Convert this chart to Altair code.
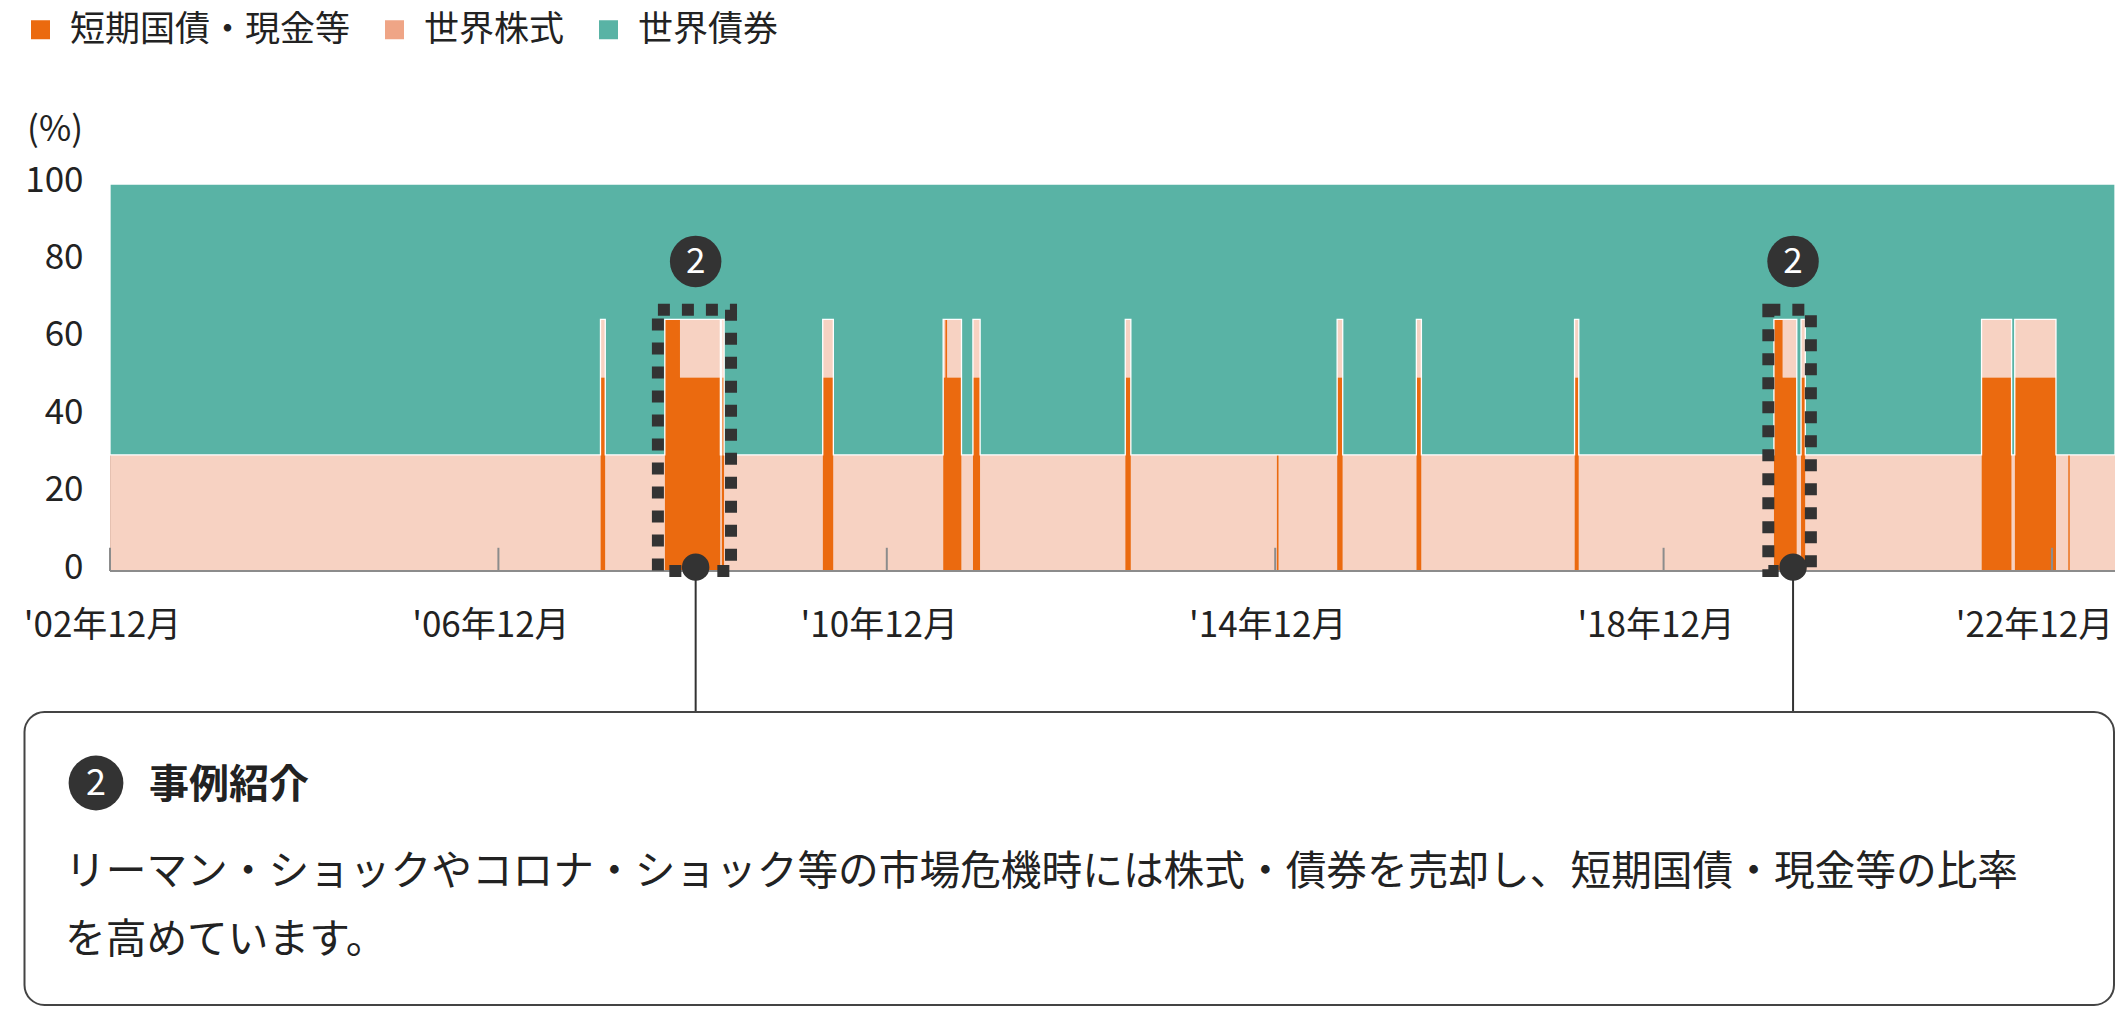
import altair as alt
import pandas as pd

# ---------------- data ----------------
series_names = ["短期国債・現金等", "世界株式", "世界債券"]
series_colors = ["#EB6A0F", "#EFA586", "#59B3A5"]

# allocation change points (step-after)
change_dates = [
    "2002-12-01", "2007-12-20", "2008-01-07", "2008-08-18", "2008-10-14",
    "2009-03-15", "2009-03-20", "2009-03-29", "2010-04-04", "2010-05-14",
    "2011-07-01", "2011-07-09", "2011-07-16", "2011-09-08", "2011-10-21",
    "2011-11-17", "2013-05-16", "2013-06-06", "2014-12-07", "2014-12-14",
    "2015-07-22", "2015-08-12", "2016-05-15", "2016-06-03", "2017-12-31",
    "2018-01-16", "2020-01-20", "2020-02-22", "2020-04-15", "2020-05-01",
    "2020-05-17", "2022-03-11", "2022-07-02", "2022-07-14", "2022-12-16",
    "2023-01-31", "2023-02-06", "2023-07-26",
]
cash = [0, 50, 0, 65, 50, 0, 50, 0, 50, 0,
        50, 65, 50, 0, 50, 0, 50, 0, 30, 0,
        50, 0, 50, 0, 50, 0, 65, 50, 0, 50,
        0, 50, 0, 50, 0, 30, 0, 0]
equity = [30, 15, 30, 0, 15, 30, 15, 30, 15, 30,
          15, 0, 15, 30, 15, 30, 15, 30, 0, 30,
          15, 30, 15, 30, 15, 30, 0, 15, 30, 15,
          30, 15, 30, 15, 30, 0, 30, 30]
bonds = [70, 35, 70, 35, 35, 70, 35, 70, 35, 70,
         35, 35, 35, 70, 35, 70, 35, 70, 70, 70,
         35, 70, 35, 70, 35, 70, 35, 35, 70, 35,
         70, 35, 70, 35, 70, 70, 70, 70]

tick_dates = ["2002-12-01", "2006-12-01", "2010-12-01", "2014-12-01", "2018-12-01", "2022-12-01"]
tick_height = [6, 6, 6, 6, 6, 6]

# highlighted crisis windows (dotted frames)
frame_start = ["2008-07-23", "2019-12-30"]
frame_end = ["2009-04-24", "2020-06-07"]
frame_top = [67.5, 67.5]

# callout markers
marker_dates = ["2008-12-12", "2020-04-01"]
badge_level = [80, 80]
dot_level = [1, 1]
badge_label = ["2", "2"]

unit_label = "(%)"
box_title = "事例紹介"
box_line1 = "リーマン・ショックやコロナ・ショック等の市場危機時には株式・債券を売却し、短期国債・現金等の比率"
box_line2 = "を高めています。"

FONT = "Noto Sans CJK JP"
DARK = "#333333"
TEXT = "#222222"

W, H = 2005, 387

rows = []
for i, d in enumerate(change_dates):
    for k, vals in enumerate([cash, equity, bonds]):
        rows.append({"date": d, "series": series_names[k], "k": k, "value": vals[i]})
df = pd.DataFrame(rows)

df_ticks = pd.DataFrame({"date": tick_dates, "value": [0] * len(tick_dates), "value2": tick_height})
df_frames = pd.DataFrame({"date": frame_start, "date2": frame_end, "value": frame_top,
                          "value2": [0] * len(frame_start)})
df_markers = pd.DataFrame({"date": marker_dates, "value": badge_level, "dot": dot_level,
                           "label": badge_label})
df_base = pd.DataFrame({"value": [0]})
df_one = pd.DataFrame({"u": [unit_label], "t": [box_title], "l1": [box_line1], "l2": [box_line2]})

x_dom = [alt.DateTime(year=2002, month=12, date=1, utc=True),
         alt.DateTime(year=2023, month=7, date=26, utc=True)]
x_scale = alt.Scale(type="utc", domain=x_dom, nice=False)
y_scale = alt.Scale(domain=[0, 100], nice=False)

tick_vals = [alt.DateTime(year=y, month=12, date=1, utc=True) for y in [2002, 2006, 2010, 2014, 2018, 2022]]

x_axis = alt.Axis(
    values=tick_vals,
    labelExpr="\"'\" + utcFormat(datum.value, '%y年%m月')",
    domain=False, ticks=False, grid=False,
    labelFontSize=35, labelFont=FONT, labelColor=TEXT,
    labelBaseline="middle", labelPadding=54, labelAlign="center",
    labelOffset={"condition": {"test": "utcyear(datum.value) >= 2022", "value": -18}, "value": -8},
    labelOverlap=False, labelBound=False, labelFlush=False, title=None,
)
y_axis = alt.Axis(
    values=[0, 20, 40, 60, 80, 100],
    domain=False, ticks=False, grid=False,
    labelFontSize=35, labelFont=FONT, labelColor=TEXT, labelPadding=27,
    labelBaseline="middle", labelOffset=-4, title=None,
)

areas = alt.Chart(df).mark_area(interpolate="step-after", stroke="white", strokeWidth=1.3).encode(
    x=alt.X("date:T", scale=x_scale, axis=x_axis, title=None),
    y=alt.Y("value:Q", stack="zero", scale=y_scale, axis=y_axis, title=None),
    color=alt.Color("series:N", scale=alt.Scale(domain=series_names, range=series_colors),
                    legend=alt.Legend(
                        orient="none", legendX=-87, legendY=-172, direction="horizontal",
                        title=None, symbolType="square", symbolSize=361, symbolStrokeWidth=0,
                        symbolOpacity=1, labelFontSize=35, labelFont=FONT, labelColor=TEXT,
                        labelLimit=1000, labelOffset=12, columnPadding=26, padding=0)),
    fillOpacity=alt.condition(alt.datum.series == series_names[1], alt.value(0.5), alt.value(1)),
    strokeOpacity=alt.condition(alt.datum.series == series_names[2], alt.value(1), alt.value(0)),
    order=alt.Order("k:Q", sort="ascending"),
)

ticks = alt.Chart(df_ticks).mark_rule(color="#8c8c8c", strokeWidth=2).encode(
    x=alt.X("date:T", title=None), y=alt.Y("value:Q", title=None), y2="value2:Q")

baseline = alt.Chart(df_base).mark_rule(color="#8c8c8c", strokeWidth=2).encode(
    y=alt.Y("value:Q", title=None))

frames = alt.Chart(df_frames).mark_rect(fillOpacity=0, stroke=DARK, strokeWidth=12,
                                        strokeDash=[12, 12]).encode(
    x=alt.X("date:T", title=None), x2="date2:T",
    y=alt.Y("value:Q", title=None), y2="value2:Q")

connectors = alt.Chart(df_markers).mark_rule(color=DARK, strokeWidth=2).encode(
    x=alt.X("date:T", title=None), y=alt.value(384), y2=alt.value(528))

dots = alt.Chart(df_markers).mark_circle(color=DARK, opacity=1, size=755).encode(
    x=alt.X("date:T", title=None), y=alt.Y("dot:Q", title=None))

badges = alt.Chart(df_markers).mark_circle(color=DARK, opacity=1, size=2650).encode(
    x=alt.X("date:T", title=None), y=alt.Y("value:Q", title=None))

badge_text = alt.Chart(df_markers).mark_text(color="white", fontSize=35, font=FONT,
                                             align="center", baseline="middle", dy=1).encode(
    x=alt.X("date:T", title=None), y=alt.Y("value:Q", title=None), text="label:N")

unit_text = alt.Chart(df_one).mark_text(color=TEXT, fontSize=35, font=FONT,
                                        align="right", baseline="middle").encode(
    x=alt.value(-27), y=alt.value(-54), text="u:N")

box = alt.Chart(df_one).mark_rect(fill="white", stroke="#444444", strokeWidth=2, cornerRadius=20).encode(
    x=alt.value(-85.5), x2=alt.value(2004), y=alt.value(528), y2=alt.value(821))

box_badge = alt.Chart(df_one).mark_circle(color=DARK, opacity=1, size=3000).encode(
    x=alt.value(-14), y=alt.value(599))
box_badge_text = alt.Chart(df_one).mark_text(text="2", color="white", fontSize=36, font=FONT,
                                             align="center", baseline="middle", dy=1).encode(
    x=alt.value(-14), y=alt.value(599))
title_text = alt.Chart(df_one).mark_text(color=TEXT, fontSize=40, fontWeight="bold", font=FONT,
                                         align="left", baseline="middle").encode(
    x=alt.value(39), y=alt.value(602), text="t:N")
line1_text = alt.Chart(df_one).mark_text(color=TEXT, fontSize=40.7, font=FONT,
                                         align="left", baseline="middle").encode(
    x=alt.value(-45), y=alt.value(689), text="l1:N")
line2_text = alt.Chart(df_one).mark_text(color=TEXT, fontSize=40.7, font=FONT,
                                         align="left", baseline="middle").encode(
    x=alt.value(-45), y=alt.value(757), text="l2:N")

chart = alt.layer(
    areas, ticks, baseline, frames, connectors, dots, badges, badge_text, unit_text,
    box, box_badge, box_badge_text, title_text, line1_text, line2_text,
).properties(
    width=W, height=H,
    autosize=alt.AutoSizeParams(type="none"),
    padding={"left": 102, "top": 176, "right": 0, "bottom": 437},
).configure_view(stroke=None).configure(font=FONT, background="white")

chart.save("out.html", embed_options={"renderer": "svg", "actions": False})
